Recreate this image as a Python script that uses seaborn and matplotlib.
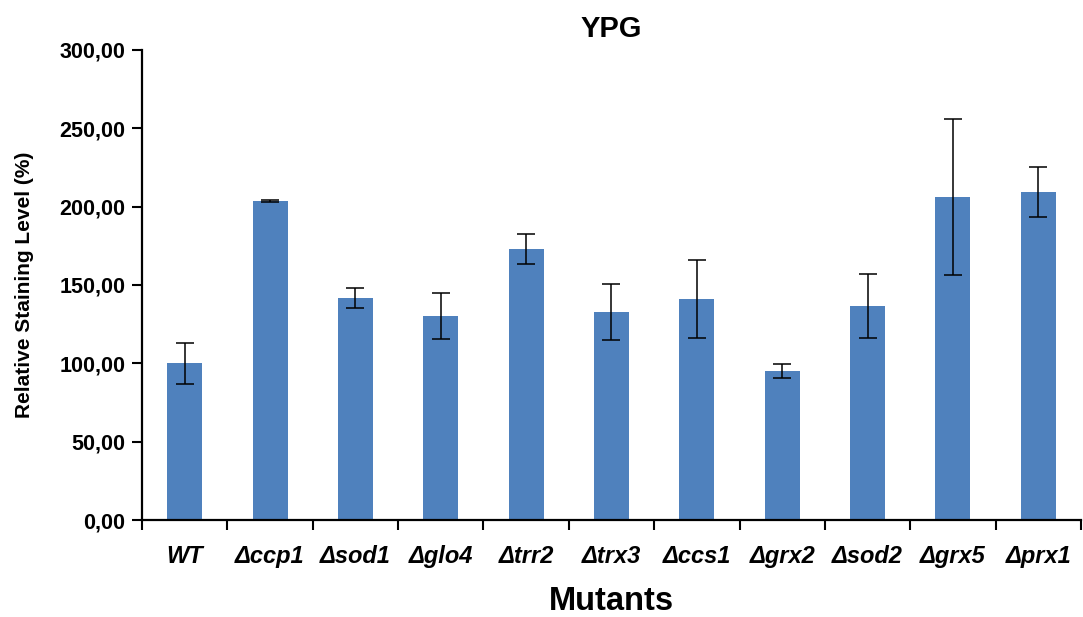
import pandas as pd
import matplotlib
matplotlib.use("Agg")
import matplotlib.pyplot as plt
import seaborn as sns

# values
mutants = ["WT", "ccp1", "sod1", "glo4", "trr2", "trx3", "ccs1", "grx2", "sod2", "grx5", "prx1"]
staining = [100.0, 203.6, 141.7, 130.2, 173.0, 132.8, 141.1, 95.1, 136.6, 206.2, 209.4]
errors = [13.0, 0.5, 6.4, 14.4, 9.6, 17.8, 25.0, 4.4, 20.2, 50.0, 16.0]
ytick_values = [0, 50, 100, 150, 200, 250, 300]
ytick_labels = ["0,00", "50,00", "100,00", "150,00", "200,00", "250,00", "300,00"]

df = pd.DataFrame({"mutant": mutants, "staining": staining, "err": errors})

sns.set_style("ticks")
plt.rcParams["font.family"] = ["Liberation Sans", "DejaVu Sans"]
for key in ["text.color", "axes.labelcolor", "xtick.color", "ytick.color", "axes.edgecolor"]:
    plt.rcParams[key] = "black"

fig = plt.figure(figsize=(10.83, 6.17), dpi=100)
ax = fig.add_axes([0.1311, 0.1572, 0.8670, 0.7618])

sns.barplot(data=df, x="mutant", y="staining", color="#4F81BD", saturation=1,
            width=0.41, errorbar=None, linewidth=0, ax=ax)
ax.errorbar(x=range(len(df)), y=df["staining"], yerr=df["err"], fmt="none",
            ecolor="black", elinewidth=1.1, capsize=6.5, capthick=1.1)

ax.set_xlim(-0.5, len(df) - 0.5)
ax.set_ylim(0, 300)
ax.set_yticks(ytick_values)
ax.set_yticklabels(ytick_labels, fontsize=15.5, fontweight="bold")

xlabels = ["WT"] + ["\u0394" + m for m in mutants[1:]]
ax.set_xticks(range(len(df)))
ax.set_xticklabels(xlabels, fontsize=17, fontweight="bold", fontstyle="italic")
ax.set_xticks([i - 0.5 for i in range(len(df) + 1)], minor=True)
ax.tick_params(axis="x", which="major", length=0, pad=18)
ax.tick_params(axis="x", which="minor", length=7, width=1.5, direction="out")
ax.tick_params(axis="y", length=7, width=1.5, direction="out", pad=5)

for side in ["top", "right"]:
    ax.spines[side].set_visible(False)
for side in ["left", "bottom"]:
    ax.spines[side].set_linewidth(1.6)

ax.set_title("YPG", fontsize=21, fontweight="bold", pad=9)
ax.set_xlabel("Mutants", fontsize=23.5, fontweight="bold", labelpad=13)
ax.set_ylabel("Relative Staining Level (%)", fontsize=15, fontweight="bold", labelpad=18)

fig.savefig("out.png", dpi=100)
